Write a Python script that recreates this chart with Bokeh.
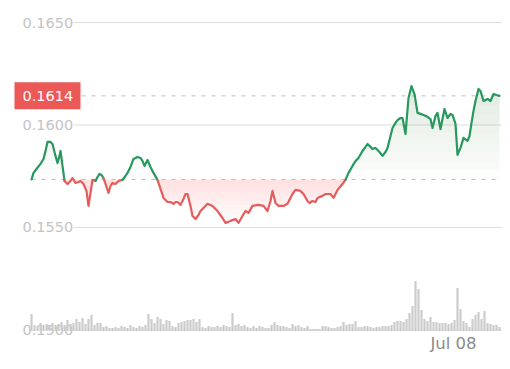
import numpy as np
from bokeh.plotting import figure
from bokeh.models import Range1d
from bokeh.core.properties import value
from bokeh.embed import file_html
from bokeh.resources import INLINE

# ---------------- data ----------------
# time offsets (arbitrary units, one volume bar every 3 units)
t = [0, 2, 5, 9, 12, 14, 16, 19, 21, 24,
     26, 28, 29, 31, 33, 36, 39, 41, 44, 47,
     49, 52, 55, 57, 59, 61, 64, 66, 68, 70,
     72, 74, 77, 79, 81, 84, 87, 91, 94, 96,
     99, 102, 106, 109, 111, 113, 116, 119, 122, 126,
     129, 132, 136, 139, 142, 144, 146, 149, 152, 154,
     156, 159, 161, 164, 167, 169, 173, 176, 181, 186,
     191, 194, 197, 199, 204, 207, 211, 214, 217, 221,
     227, 232, 236, 239, 241, 244, 247, 252, 256, 261,
     264, 269, 272, 276, 278, 281, 284, 286, 291, 294,
     299, 302, 306, 311, 314, 317, 321, 324, 327, 331,
     334, 336, 339, 341, 344, 348, 351, 354, 356, 359,
     361, 364, 366, 369, 371, 374, 377, 380, 383, 386,
     389, 392, 396, 399, 401, 404, 406, 409, 413, 416,
     419, 421, 424, 426, 429, 432, 436, 438, 440, 442,
     444, 447, 449, 452, 456, 459, 462, 465, 468]

price = [0.15734, 0.15766, 0.15785, 0.15810, 0.15834, 0.15873, 0.15917, 0.15917, 0.15907, 0.15849,
         0.15815, 0.15849, 0.15873, 0.15800, 0.15727, 0.15712, 0.15727, 0.15741, 0.15717, 0.15722,
         0.15727, 0.15712, 0.15678, 0.15605, 0.15668, 0.15732, 0.15727, 0.15746, 0.15761, 0.15756,
         0.15741, 0.15712, 0.15668, 0.15702, 0.15717, 0.15712, 0.15727, 0.15732, 0.15751, 0.15766,
         0.15795, 0.15834, 0.15844, 0.15839, 0.15824, 0.15800, 0.15829, 0.15795, 0.15766, 0.15732,
         0.15688, 0.15644, 0.15624, 0.15624, 0.15615, 0.15624, 0.15624, 0.15610, 0.15639, 0.15663,
         0.15663, 0.15605, 0.15556, 0.15541, 0.15561, 0.15580, 0.15600, 0.15615, 0.15605, 0.15580,
         0.15546, 0.15522, 0.15527, 0.15532, 0.15541, 0.15522, 0.15556, 0.15580, 0.15571, 0.15605,
         0.15610, 0.15605, 0.15580, 0.15629, 0.15678, 0.15619, 0.15605, 0.15605, 0.15615, 0.15663,
         0.15683, 0.15678, 0.15663, 0.15629, 0.15619, 0.15629, 0.15624, 0.15644, 0.15654, 0.15663,
         0.15663, 0.15644, 0.15683, 0.15712, 0.15732, 0.15766, 0.15800, 0.15824, 0.15839, 0.15873,
         0.15893, 0.15907, 0.15893, 0.15883, 0.15888, 0.15868, 0.15849, 0.15868, 0.15888, 0.15946,
         0.15985, 0.16010, 0.16024, 0.16034, 0.16034, 0.15956, 0.16132, 0.16190, 0.16151, 0.16059,
         0.16054, 0.16049, 0.16040, 0.16029, 0.15985, 0.16044, 0.16059, 0.15980, 0.16078, 0.16034,
         0.16054, 0.16049, 0.16005, 0.15854, 0.15888, 0.15937, 0.15922, 0.15946, 0.16010, 0.16068,
         0.16117, 0.16176, 0.16166, 0.16117, 0.16127, 0.16117, 0.16151, 0.16146, 0.16142]

volume = [17, 6, 5, 8, 6, 7, 5, 8, 6, 7,
          9, 6, 11, 7, 8, 12, 9, 13, 7, 12,
          16, 6, 8, 8, 4, 5, 3, 3, 4, 3,
          5, 4, 3, 6, 4, 3, 5, 4, 6, 17,
          12, 8, 14, 12, 7, 11, 10, 5, 4, 8,
          9, 10, 11, 11, 12, 9, 12, 4, 3, 5,
          4, 4, 5, 4, 6, 5, 4, 18, 6, 7,
          5, 6, 4, 3, 5, 3, 5, 4, 3, 3,
          6, 9, 6, 5, 5, 4, 3, 7, 5, 6,
          4, 3, 5, 2, 2, 2, 2, 5, 5, 4,
          3, 3, 4, 5, 9, 6, 7, 7, 10, 4,
          4, 5, 5, 4, 3, 4, 4, 5, 5, 5,
          6, 9, 10, 10, 9, 12, 18, 25, 50, 42,
          21, 12, 10, 14, 9, 9, 8, 8, 8, 7,
          8, 11, 43, 22, 10, 8, 4, 12, 16, 19,
          12, 20, 8, 7, 6, 6, 4]
vol_t = [3 * i for i in range(len(volume))]

y_ticks = [0.1500, 0.1550, 0.1600, 0.1650]
y_tick_labels = ["%.4f" % v for v in y_ticks]
x_ticks = [422]
x_tick_labels = ["Jul 08"]

assert len(t) == len(price)

# ---------------- styling ----------------
GREEN = "#27985e"
RED = "#e65c5c"
BOX_RED = "#eb5858"
LABEL_GRAY = "#c4c4c4"
GRID_GRAY = "#dcdcdc"
DASH_GRAY = "#bdbdbd"
VOL_GRAY = "#cccccc"
FONT = value("DejaVu Sans")

p = figure(width=510, height=369, output_backend="svg", toolbar_location=None,
           x_axis_type=None, y_axis_type=None,
           x_range=Range1d(-31, 479), y_range=Range1d(0.1480664, 0.1660736),
           min_border=0, outline_line_color=None)
p.extra_y_ranges = {"vol": Range1d(-38.5, 330.5)}
p.background_fill_color = "white"
p.border_fill_color = "white"

tt = np.array(t, dtype=float)
pp = np.array(price)
base = pp[0]
last = pp[-1]

# grid lines (start right after the tick labels)
label_x = -9
p.segment(x0=[42] * len(y_ticks), x1=[470] * len(y_ticks), y0=y_ticks, y1=y_ticks,
          line_color=GRID_GRAY, line_width=1)

# gradient-like fills (layered bands)
n = 10
top = pp.max()
for k in range(n):
    lo = base + k * (top - base) / n
    p.varea(x=tt, y1=np.full_like(pp, lo), y2=np.maximum(pp, lo),
            fill_color=GREEN, fill_alpha=0.016)
bot = pp.min()
for k in range(n):
    lo = base - (k + 1) * (base - bot) / n
    p.varea(x=tt, y1=np.clip(pp, lo, base), y2=np.full_like(pp, base),
            fill_color=RED, fill_alpha=0.02)

# dashed reference lines (baseline and last price)
p.segment(x0=[tt[0], tt[0]], x1=[tt[-1] + 2, tt[-1] + 2], y0=[base, last], y1=[base, last],
          line_color=DASH_GRAY, line_width=1, line_dash="4 6")

# tick labels
p.text(x=[label_x] * len(y_ticks), y=y_ticks, text=y_tick_labels, text_font=FONT,
       text_font_size="14.5px", text_color=LABEL_GRAY, text_align="left", text_baseline="middle")

# volume bars
p.vbar(x=vol_t, top=volume, bottom=0, width=2.2, y_range_name="vol",
       fill_color=VOL_GRAY, line_color=None)

p.text(x=x_ticks, y=[0.14934] * len(x_ticks), text=x_tick_labels, text_font=FONT,
       text_font_size="16.5px", text_color="#8c8c8c", text_align="center", text_baseline="middle")

# price line, coloured by side of baseline
above = [(pp[i] + pp[i + 1]) / 2 >= base for i in range(len(pp) - 1)]
xs, ys, cs = [], [], []
start = 0
for i in range(1, len(above) + 1):
    if i == len(above) or above[i] != above[start]:
        xs.append(list(tt[start:i + 1]))
        ys.append(list(pp[start:i + 1]))
        cs.append(GREEN if above[start] else RED)
        start = i
p.multi_line(xs=xs, ys=ys, line_color=cs, line_width=2.2, line_join="round", line_cap="round")

# last price label
p.rect(x=[16], y=[last], width=66, height=27, width_units="screen", height_units="screen",
       fill_color=BOX_RED, line_color=None)
p.text(x=[label_x], y=[last], text=["%.4f" % last], text_font=FONT, text_font_size="14.5px",
       text_color="white", text_align="left", text_baseline="middle")

open("out.html", "w").write(file_html(p, INLINE))
